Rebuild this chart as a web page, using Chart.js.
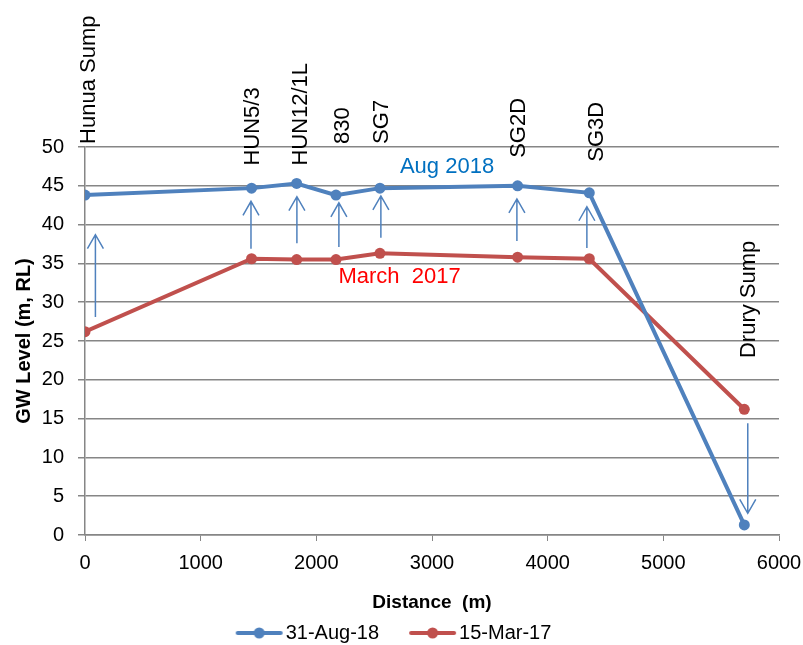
<!DOCTYPE html>
<html lang="en">
<head>
  <meta charset="UTF-8" />
  <title>GW Level vs Distance</title>
  <script src="https://cdn.jsdelivr.net/npm/chart.js"></script>
  <style>
    html, body {
      margin: 0;
      padding: 0;
      background: #ffffff;
    }
    #wrap {
      width: 803px;
      height: 645px;
    }
  </style>
</head>
<body>
  <div id="wrap"><canvas id="gwChart" width="803" height="645"></canvas></div>

  <script>
    const FONT = "'Liberation Sans', Arial, sans-serif";

    // distances along section (m)
    const distances = [0, 1440, 1830, 2170, 2550, 3740, 4360, 5700];
    const aug2018 = [43.8, 44.7, 45.3, 43.8, 44.7, 45.0, 44.1, 1.3];
    const mar2017 = [26.2, 35.6, 35.5, 35.5, 36.3, 35.8, 35.6, 16.2];
    const seriesNames = ['31-Aug-18', '15-Mar-17'];

    // well / sump names written vertically above the points
    const siteNames = ['Hunua Sump', 'HUN5/3', 'HUN12/1L', '830', 'SG7', 'SG2D', 'SG3D', 'Drury Sump'];
    const siteX = [30, 1450, 1865, 2230, 2565, 3750, 4425, 5740];
    const siteBase = [50.4, 47.6, 47.6, 50.4, 50.4, 48.6, 48.1, 22.8];

    // change arrows (tail level -> head level)
    const arrowX = [90, 1435, 1832, 2195, 2558, 3734, 4339, 5730];
    const arrowFrom = [28.1, 36.9, 37.6, 37.1, 38.3, 37.9, 37.0, 14.4];
    const arrowTo = [38.7, 43.0, 43.6, 42.8, 43.7, 43.3, 42.3, 2.8];

    const xTicks = [0, 1000, 2000, 3000, 4000, 5000, 6000];
    const yTicks = [0, 5, 10, 15, 20, 25, 30, 35, 40, 45, 50];

    const blue = '#4F81BD';
    const red = '#C0504D';
    const legendShift = 8;
    const legendGap = 22;

    // line + marker swatch, drawn a bit off-centre so it sits close to its text
    function legendIcon(color) {
      const c = document.createElement('canvas');
      c.width = 64;
      c.height = 14;
      const g = c.getContext('2d');
      g.strokeStyle = color;
      g.lineWidth = 4;
      g.lineCap = 'round';
      g.beginPath();
      g.moveTo(18, 7);
      g.lineTo(61, 7);
      g.stroke();
      g.fillStyle = color;
      g.beginPath();
      g.arc(39.5, 7, 5.5, 0, Math.PI * 2);
      g.fill();
      return c;
    }

    const annotations = {
      id: 'annotations',
      afterDatasetsDraw(chart) {
        const ctx = chart.ctx;
        const xs = chart.scales.x;
        const ys = chart.scales.y;
        ctx.save();

        // arrows
        ctx.strokeStyle = blue;
        ctx.lineWidth = 1.5;
        arrowX.forEach((x, i) => {
          const px = xs.getPixelForValue(x);
          const y0 = ys.getPixelForValue(arrowFrom[i]);
          const y1 = ys.getPixelForValue(arrowTo[i]);
          const dir = y1 < y0 ? 1 : -1;
          ctx.beginPath();
          ctx.moveTo(px, y0);
          ctx.lineTo(px, y1);
          ctx.moveTo(px - 8, y1 + dir * 14);
          ctx.lineTo(px, y1);
          ctx.lineTo(px + 8, y1 + dir * 14);
          ctx.stroke();
        });

        // vertical site names
        ctx.fillStyle = '#000000';
        ctx.font = '22px ' + FONT;
        ctx.textAlign = 'left';
        ctx.textBaseline = 'middle';
        siteNames.forEach((name, i) => {
          const px = xs.getPixelForValue(siteX[i]);
          const py = ys.getPixelForValue(siteBase[i]);
          ctx.save();
          ctx.translate(px, py);
          ctx.rotate(-Math.PI / 2);
          ctx.fillText(name, 0, 0);
          ctx.restore();
        });

        // series notes
        ctx.textAlign = 'center';
        ctx.fillStyle = '#0070C0';
        ctx.fillText('Aug 2018', xs.getPixelForValue(3130), ys.getPixelForValue(47.4));
        ctx.fillStyle = '#FF0000';
        ctx.fillText('March  2017', xs.getPixelForValue(2720), ys.getPixelForValue(33.3));

        ctx.restore();
      }
    };

    const ctx = document.getElementById('gwChart').getContext('2d');
    const chart = new Chart(ctx, {
      type: 'line',
      data: {
        datasets: [
          {
            label: seriesNames[0],
            data: distances.map((d, i) => ({ x: d, y: aug2018[i] })),
            borderColor: blue,
            backgroundColor: blue,
            borderWidth: 4,
            pointRadius: 5.5,
            pointStyle: 'circle',
            pointBackgroundColor: blue,
            pointBorderWidth: 0,
            tension: 0
          },
          {
            label: seriesNames[1],
            data: distances.map((d, i) => ({ x: d, y: mar2017[i] })),
            borderColor: red,
            backgroundColor: red,
            borderWidth: 4,
            pointRadius: 5.5,
            pointStyle: 'circle',
            pointBackgroundColor: red,
            pointBorderWidth: 0,
            tension: 0
          }
        ]
      },
      options: {
        responsive: false,
        animation: false,
        layout: {
          padding: { left: 0, right: 24, top: 147, bottom: -legendShift }
        },
        plugins: {
          tooltip: { enabled: false },
          legend: {
            position: 'bottom',
            labels: {
              usePointStyle: true,
              pointStyleWidth: 48,
              padding: legendGap,
              color: '#000000',
              font: { family: FONT, size: 20 },
              generateLabels(chart) {
                return chart.data.datasets.map((ds, i) => ({
                  text: ds.label,
                  pointStyle: legendIcon(ds.borderColor),
                  fillStyle: ds.borderColor,
                  strokeStyle: ds.borderColor,
                  lineWidth: 0,
                  datasetIndex: i,
                  fontColor: '#000000'
                }));
              }
            }
          }
        },
        scales: {
          x: {
            type: 'linear',
            min: 0,
            max: 6000,
            afterBuildTicks(scale) {
              scale.ticks = xTicks.map(v => ({ value: v }));
            },
            afterFit(scale) {
              scale.height = 110 + legendShift - scale.chart.legend.height;
              scale.paddingLeft = 0;
              scale.paddingRight = 0;
            },
            grid: {
              drawOnChartArea: false,
              drawTicks: true,
              tickLength: 6,
              color: '#868686'
            },
            border: { color: '#868686', width: 1.5 },
            ticks: {
              color: '#000000',
              padding: 10,
              maxRotation: 0,
              font: { family: FONT, size: 20 },
              callback: v => String(v)
            },
            title: {
              display: true,
              text: 'Distance  (m)',
              color: '#000000',
              font: { family: FONT, size: 19, weight: 'bold' },
              // pulled down into the legend's spare padding
              padding: { top: 6, bottom: 4 - (legendGap - 5) }
            }
          },
          y: {
            min: 0,
            max: 50,
            afterBuildTicks(scale) {
              scale.ticks = yTicks.map(v => ({ value: v }));
            },
            afterFit(scale) {
              scale.width = 85;
            },
            grid: {
              color: '#868686',
              lineWidth: 1.5,
              tickLength: 7
            },
            border: { color: '#868686', width: 1.5 },
            ticks: {
              color: '#000000',
              padding: 14,
              font: { family: FONT, size: 20 }
            },
            title: {
              display: true,
              text: 'GW Level (m, RL)',
              color: '#000000',
              font: { family: FONT, size: 20, weight: 'bold' },
              padding: { top: 12, bottom: 0 }
            }
          }
        }
      },
      plugins: [annotations]
    });
  </script>
</body>
</html>
